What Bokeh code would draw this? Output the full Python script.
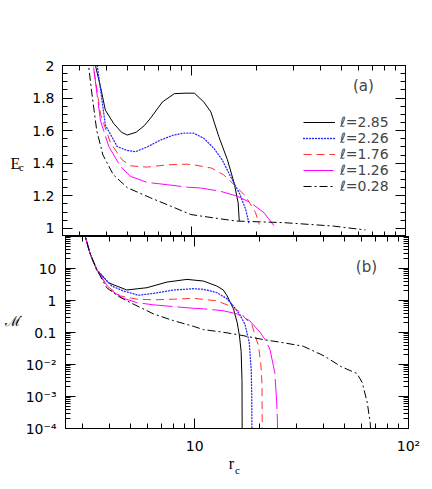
from bokeh.plotting import figure
from bokeh.models import (LogAxis, LinearAxis, FixedTicker, Range1d, Label, Legend, LegendItem)
from bokeh.layouts import column, row
from bokeh.core.properties import value
from bokeh.embed import file_html
from bokeh.resources import INLINE

FONT = "DejaVu Sans"
SERIF = "Liberation Serif"

# ---------------- data ----------------
legend_labels = ["\u2113=2.85", "\u2113=2.26", "\u2113=1.76", "\u2113=1.26", "\u2113=0.28"]

# panel (a): E_c versus r_c
r_a_285 = [3.3, 3.55, 3.75, 3.95, 4.32, 4.7, 5.0, 5.5, 6.0, 6.43, 7.3, 8.3, 9.3, 10.3, 11.4, 12.3, 13.4, 14.7, 15.8, 16.5, 16.7]
E_a_285 = [2.25, 2.0, 1.868, 1.726, 1.644, 1.59, 1.573, 1.59, 1.63, 1.677, 1.776, 1.827, 1.83, 1.83, 1.776, 1.715, 1.563, 1.421, 1.279, 1.157, 1.045]

r_a_226 = [3.4, 3.62, 3.95, 4.49, 5.0, 5.47, 6.2, 7.17, 8.2, 9.2, 10.2, 11.4, 12.7, 13.9, 15.2, 16.7, 17.9, 18.5]
E_a_226 = [2.2, 2.0, 1.634, 1.502, 1.478, 1.471, 1.50, 1.543, 1.572, 1.585, 1.585, 1.553, 1.492, 1.42, 1.319, 1.218, 1.116, 1.035]

r_a_176 = [3.3, 3.47, 3.75, 4.18, 4.73, 5.18, 6.2, 7.7, 9.5, 10.25, 12.4, 14.1, 15.8, 17.9, 19.9, 20.7]
E_a_176 = [2.2, 2.0, 1.70, 1.523, 1.421, 1.384, 1.376, 1.39, 1.394, 1.39, 1.37, 1.329, 1.268, 1.197, 1.096, 1.024]

r_a_126 = [3.3, 3.47, 3.75, 4.1, 4.65, 5.18, 6.2, 7.7, 9.7, 11.0, 13.7, 16.4, 18.9, 21.8, 24.4]
E_a_126 = [2.2, 2.0, 1.66, 1.502, 1.38, 1.319, 1.282, 1.268, 1.252, 1.248, 1.227, 1.197, 1.157, 1.096, 1.012]

r_a_028 = [3.2, 3.4, 3.6, 3.85, 4.3, 5.0, 6.43, 8.0, 9.9, 11.0, 16.1, 27.0, 46.0, 65.0]
E_a_028 = [2.15, 1.85, 1.60, 1.45, 1.33, 1.25, 1.187, 1.136, 1.085, 1.076, 1.045, 1.035, 1.014, 0.99]

# panel (b): accretion rate versus r_c
r_b_285 = [3.0, 3.08, 3.24, 3.48, 3.95, 4.82, 5.98, 7.43, 9.21, 11.0, 12.7, 13.6, 14.2, 15.2, 15.8, 16.2, 16.5, 16.65, 16.7]
m_b_285 = [200, 100, 30.2, 9.33, 3.59, 2.13, 2.51, 3.77, 4.57, 4.05, 2.83, 2.14, 1.39, 0.537, 0.209, 0.0794, 0.0251, 0.00316, 1e-5]

r_b_226 = [3.0, 3.08, 3.24, 3.48, 4.1, 4.65, 5.47, 6.43, 7.97, 9.9, 11.0, 12.7, 14.2, 15.3, 16.3, 17.2, 18.0, 18.4, 18.5, 18.55]
m_b_226 = [200, 100, 30.2, 9.33, 2.83, 1.98, 1.46, 1.68, 2.13, 2.34, 2.24, 1.76, 1.12, 0.631, 0.355, 0.178, 0.0501, 0.00631, 0.001, 1e-5]

r_b_176 = [3.0, 3.08, 3.24, 3.48, 3.9, 4.49, 5.36, 6.43, 7.97, 9.9, 12.7, 14.6, 16.4, 17.2, 18.5, 19.9, 20.4, 20.65, 20.75]
m_b_176 = [200, 100, 30.2, 9.33, 2.82, 1.39, 1.10, 1.05, 1.10, 1.17, 0.977, 0.676, 0.427, 0.282, 0.178, 0.0372, 0.01, 0.00251, 1e-5]

r_b_126 = [3.0, 3.08, 3.24, 3.48, 4.0, 4.6, 5.36, 6.43, 7.97, 9.9, 11.0, 13.6, 15.8, 18.1, 20.2, 21.5, 22.5, 23.7, 24.2, 24.4, 24.45]
m_b_126 = [200, 100, 30.2, 9.33, 2.24, 1.20, 0.861, 0.731, 0.646, 0.569, 0.55, 0.479, 0.380, 0.234, 0.102, 0.0562, 0.0295, 0.00562, 0.00066, 0.000158, 1e-5]

r_b_028 = [3.0, 3.08, 3.24, 3.48, 3.88, 4.4, 5.0, 6.43, 7.97, 9.9, 11.0, 13.6, 16.0, 20.9, 26.0, 32.2, 40.5, 48.5, 57.4, 60.7, 64.1, 66.2, 66.8]
m_b_028 = [200, 100, 30.2, 9.33, 2.51, 1.35, 0.861, 0.380, 0.234, 0.155, 0.123, 0.102, 0.0851, 0.0603, 0.0479, 0.0372, 0.0182, 0.00851, 0.00525, 0.00275, 0.00066, 0.000151, 5e-5]

# ticks
x_major = [10, 100]
x_minor = [3, 4, 5, 6, 7, 8, 9, 20, 30, 40, 50, 60, 70, 80, 90]
x_labels = {10: "10", 100: "10\u00b2"}
ya_major = [1.0, 1.2, 1.4, 1.6, 1.8, 2.0]
ya_minor = [1.05, 1.1, 1.15, 1.25, 1.3, 1.35, 1.45, 1.5, 1.55, 1.65, 1.7, 1.75, 1.85, 1.9, 1.95]
ya_labels = {1.0: "1", 1.2: "1.2", 1.4: "1.4", 1.6: "1.6", 1.8: "1.8", 2.0: "2"}
yb_major = [1e-4, 1e-3, 1e-2, 0.1, 1, 10, 100]
yb_labels = {1e-4: "10\u207b\u2074", 1e-3: "10\u207b\u00b3", 1e-2: "10\u207b\u00b2",
             0.1: "0.1", 1: "1", 10: "10", 100: " "}
yb_minor = [k * d for d in [1e-4, 1e-3, 1e-2, 0.1, 1, 10] for k in range(2, 10)]

styles = [
    dict(color="black", line_dash="solid", line_width=1),
    dict(color="#2a2aff", line_dash="1 2", line_width=1.3, line_cap="round"),
    dict(color="#ff3030", line_dash="8 5", line_width=1),
    dict(color="#ff00ff", line_dash="30 5", line_width=1),
    dict(color="black", line_dash="8 3 2 3", line_width=1),
]

x_rng = Range1d(2.49, 100)


def style_axis(ax, labels=True, standoff=8):
    ax.major_tick_in = 10
    ax.major_tick_out = 0
    ax.minor_tick_in = 5
    ax.minor_tick_out = 0
    ax.axis_line_color = "black"
    ax.major_tick_line_color = "black"
    ax.minor_tick_line_color = "black"
    ax.major_label_text_font = FONT
    ax.major_label_text_font_size = "14px"
    ax.major_label_text_color = "black"
    ax.major_label_standoff = standoff
    if not labels:
        ax.major_label_text_font_size = "1px"
        ax.major_label_text_alpha = 0
        ax.major_label_standoff = 0


def text_strip(w, h):
    f = figure(width=w, height=h, x_range=Range1d(0, w), y_range=Range1d(h, 0),
               min_border=0, toolbar_location=None, output_backend="svg",
               x_axis_location=None, y_axis_location=None)
    f.grid.visible = False
    f.outline_line_color = None
    return f


def put(f, x, y, txt, font, size):
    f.text(x=[x], y=[y], text=[txt], text_font=value(font), text_font_size=value(size),
           text_align="center", text_baseline="middle", text_color="black")


# ---------------- panel (a) ----------------
p1 = figure(x_axis_type="log", x_range=x_rng, y_range=Range1d(0.95, 2.0),
            frame_width=343, frame_height=171,
            min_border_left=36, min_border_right=27, min_border_top=65, min_border_bottom=0,
            output_backend="svg", toolbar_location=None)
p1.grid.visible = False
p1.outline_line_color = "black"

p1.xaxis.ticker = FixedTicker(ticks=x_major, minor_ticks=x_minor)
style_axis(p1.xaxis[0], labels=False)
p1.yaxis.ticker = FixedTicker(ticks=ya_major, minor_ticks=ya_minor)
p1.yaxis.major_label_overrides = ya_labels
style_axis(p1.yaxis[0], labels=True, standoff=8)

top_ax1 = LogAxis(ticker=FixedTicker(ticks=x_major, minor_ticks=x_minor))
style_axis(top_ax1, labels=False)
p1.add_layout(top_ax1, "above")
right_ax1 = LinearAxis(ticker=FixedTicker(ticks=ya_major, minor_ticks=ya_minor))
style_axis(right_ax1, labels=False)
p1.add_layout(right_ax1, "right")

data_a = [(r_a_285, E_a_285), (r_a_226, E_a_226), (r_a_176, E_a_176), (r_a_126, E_a_126), (r_a_028, E_a_028)]
items = []
for (xs, ys), st, lab in zip(data_a, styles, legend_labels):
    rr = p1.line(xs, ys, **st)
    items.append(LegendItem(label=lab, renderers=[rr]))

legend = Legend(items=items, location=(241, 42), glyph_width=32, glyph_height=16,
                label_height=16, spacing=0, padding=0, margin=0, label_standoff=5,
                border_line_alpha=0, background_fill_alpha=0,
                label_text_font=FONT, label_text_font_size="14px")
p1.add_layout(legend)

p1.add_layout(Label(x=63.6, y=1.877, text="(a)", text_align="center", text_baseline="middle",
                    text_font=FONT, text_font_size="15px"))

lab_a = text_strip(26, 236)
put(lab_a, 15, 135, "E", SERIF, "16px")
put(lab_a, 21, 140, "c", SERIF, "11px")

# ---------------- panel (b) ----------------
p2 = figure(x_axis_type="log", y_axis_type="log", x_range=x_rng, y_range=Range1d(1e-4, 100),
            frame_width=343, frame_height=192,
            min_border_left=40, min_border_right=27, min_border_top=0, min_border_bottom=26,
            output_backend="svg", toolbar_location=None)
p2.grid.visible = False
p2.outline_line_color = "black"

p2.xaxis.ticker = FixedTicker(ticks=x_major, minor_ticks=x_minor)
p2.xaxis.major_label_overrides = x_labels
style_axis(p2.xaxis[0], labels=True, standoff=9)
p2.yaxis.ticker = FixedTicker(ticks=yb_major, minor_ticks=yb_minor)
p2.yaxis.major_label_overrides = yb_labels
style_axis(p2.yaxis[0], labels=True, standoff=9)

top_ax2 = LogAxis(ticker=FixedTicker(ticks=x_major, minor_ticks=x_minor))
style_axis(top_ax2, labels=False)
p2.add_layout(top_ax2, "above")
right_ax2 = LogAxis(ticker=FixedTicker(ticks=yb_major, minor_ticks=yb_minor))
style_axis(right_ax2, labels=False)
p2.add_layout(right_ax2, "right")

data_b = [(r_b_285, m_b_285), (r_b_226, m_b_226), (r_b_176, m_b_176), (r_b_126, m_b_126), (r_b_028, m_b_028)]
for (xs, ys), st in zip(data_b, styles):
    p2.line(xs, ys, **st)

p2.add_layout(Label(x=63.6, y=11.0, text="(b)", text_align="center", text_baseline="middle",
                    text_font=FONT, text_font_size="15px"))

lab_b = text_strip(22, 218)
put(lab_b, 12, 97, "\u2133\u0307", "DejaVu Serif", "14px")

lab_x = text_strip(432, 35)
put(lab_x, 231, 7, "r", SERIF, "16px")
put(lab_x, 237, 13, "c", SERIF, "11px")

layout = column(row(lab_a, p1, spacing=0), row(lab_b, p2, spacing=0), lab_x, spacing=0)
open("out.html", "w").write(file_html(layout, INLINE))
